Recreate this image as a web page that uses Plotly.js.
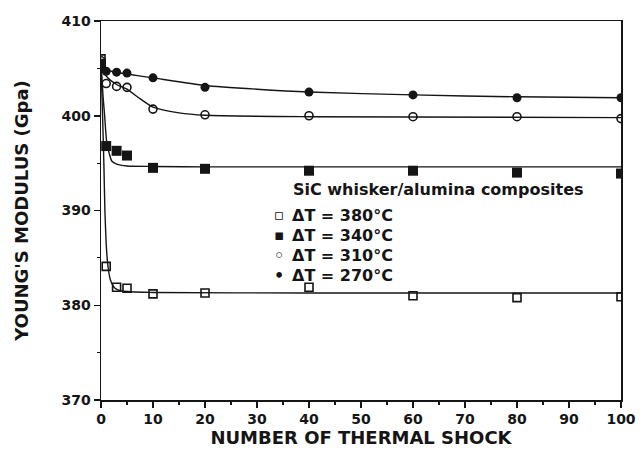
<!DOCTYPE html>
<html>
<head>
<meta charset="utf-8">
<script src="https://cdn.plot.ly/plotly-3.0.1.min.js"></script>
<style>html,body{margin:0;padding:0;background:#fff;}#chart{width:644px;height:460px;}</style>
</head>
<body>
<div id="chart"></div>
<script>
// Measured points (number of thermal shocks vs Young's modulus, GPa)
const shocks = [0, 1, 3, 5, 10, 20, 40, 60, 80, 100];
const e380 = [406.0, 384.1, 381.9, 381.8, 381.2, 381.3, 381.9, 381.0, 380.8, 380.9];
const e340 = [405.5, 396.8, 396.3, 395.8, 394.5, 394.4, 394.2, 394.2, 394.0, 393.9];
const e310 = [405.8, 403.4, 403.1, 403.0, 400.7, 400.1, 400.0, 399.9, 399.9, 399.7];
const e270 = [405.0, 404.7, 404.6, 404.5, 404.0, 403.0, 402.5, 402.2, 401.9, 401.9];

// Fitted curves
const fit380x = [0, 0.3, 0.55, 0.75, 1.0, 1.3, 1.8, 2.7, 4, 10, 40, 100];
const fit380y = [405.5, 400, 395, 390, 386.5, 384.3, 382.7, 381.8, 381.5, 381.35, 381.3, 381.3];
const fit340x = [0, 0.4, 0.7, 1.1, 1.6, 2.1, 3, 5, 10, 20, 100];
const fit340y = [405.5, 402, 400, 397.2, 396, 395.2, 394.9, 394.7, 394.65, 394.6, 394.6];
const fit310x = [0, 1, 3, 5, 7.5, 10, 15, 20, 40, 100];
const fit310y = [405.3, 404.2, 403.3, 402.8, 401.8, 400.9, 400.3, 400.05, 399.9, 399.8];
const fit270x = [0, 2, 5, 10, 20, 30, 40, 60, 80, 100];
const fit270y = [405.0, 404.7, 404.4, 404.0, 403.2, 402.8, 402.5, 402.2, 402.0, 401.9];

const seriesNames = ['\u0394T = 380\u00B0C', '\u0394T = 340\u00B0C', '\u0394T = 310\u00B0C', '\u0394T = 270\u00B0C'];
const legendGlyphs = ['\u25AB', '\u25AA', '\u25E6', '\u2022'];
const legendTitle = 'SiC whisker/alumina composites';
const xTitle = 'NUMBER OF THERMAL SHOCK';
const yTitle = "YOUNG'S MODULUS (Gpa)";

const ink = '#151515';
const FONT = 'DejaVu Sans, Liberation Sans, Arial, sans-serif';

function fitTrace(x, y) {
  return {x: x, y: y, mode: 'lines', type: 'scatter', showlegend: false, hoverinfo: 'skip',
          line: {color: ink, width: 1.4, shape: 'spline', smoothing: 0.6}};
}
function ptTrace(y, name, symbol, size) {
  const open = symbol.indexOf('open') >= 0;
  return {x: shocks, y: y, name: name, mode: 'markers', type: 'scatter', showlegend: false,
          marker: {symbol: symbol, size: size, color: ink,
                   line: {color: ink, width: open ? 1.6 : 0}}};
}

const data = [
  fitTrace(fit380x, fit380y),
  fitTrace(fit340x, fit340y),
  fitTrace(fit310x, fit310y),
  fitTrace(fit270x, fit270y),
  ptTrace(e380, seriesNames[0], 'square-open', 8),
  ptTrace(e340, seriesNames[1], 'square', 10),
  ptTrace(e310, seriesNames[2], 'circle-open', 8),
  ptTrace(e270, seriesNames[3], 'circle', 9)
];

const axisCommon = {
  showgrid: false, zeroline: false, showline: true, mirror: true,
  linecolor: ink, linewidth: 1.5, ticks: 'outside', ticklen: 6, tickwidth: 1.5, tickcolor: ink,
  tickfont: {family: FONT, size: 14, color: ink, weight: 'bold'}
};

// Legend drawn as text (layout positions in pixels converted to paper coords)
const L = 101, T = 21, W = 520, H = 379;
const px = v => (v - L) / W;
const py = v => (T + H - v) / H;
const legFont = {family: FONT, size: 16, color: ink, weight: 'bold'};
const annotations = [{
  xref: 'paper', yref: 'paper', x: px(291), y: py(190), xanchor: 'left', yanchor: 'middle',
  showarrow: false, text: legendTitle, font: legFont
}];
seriesNames.forEach((name, i) => {
  const rowY = 215 + i * 20.3;
  annotations.push({xref: 'paper', yref: 'paper', x: px(279), y: py(rowY), xanchor: 'center', yanchor: 'middle',
    showarrow: false, text: legendGlyphs[i], font: {family: FONT, size: (i < 2 ? 15 : 16), color: ink, weight: 'bold'}});
  annotations.push({xref: 'paper', yref: 'paper', x: px(290), y: py(rowY), xanchor: 'left', yanchor: 'middle',
    showarrow: false, text: name, font: legFont});
});

const layout = {
  width: 644, height: 460,
  margin: {l: 101, r: 23, t: 21, b: 60},
  paper_bgcolor: '#fff', plot_bgcolor: '#fff',
  font: {family: FONT, color: ink},
  showlegend: false,
  xaxis: Object.assign({}, axisCommon, {
    range: [0, 100], tickmode: 'linear', tick0: 0, dtick: 10,
    minor: {dtick: 5, ticklen: 3, tickwidth: 1.2, tickcolor: ink, ticks: 'outside'},
    title: {text: xTitle, font: {family: FONT, size: 18, color: ink, weight: 'bold'}, standoff: 0}
  }),
  yaxis: Object.assign({}, axisCommon, {
    range: [370, 410], tickmode: 'linear', tick0: 370, dtick: 10,
    minor: {dtick: 5, ticklen: 3, tickwidth: 1.2, tickcolor: ink, ticks: 'outside'},
    title: {text: yTitle, font: {family: FONT, size: 18, color: ink, weight: 'bold'}, standoff: 28}
  }),
  annotations: annotations
};

Plotly.newPlot('chart', data, layout, {displayModeBar: false, staticPlot: true});
</script>
</body>
</html>
